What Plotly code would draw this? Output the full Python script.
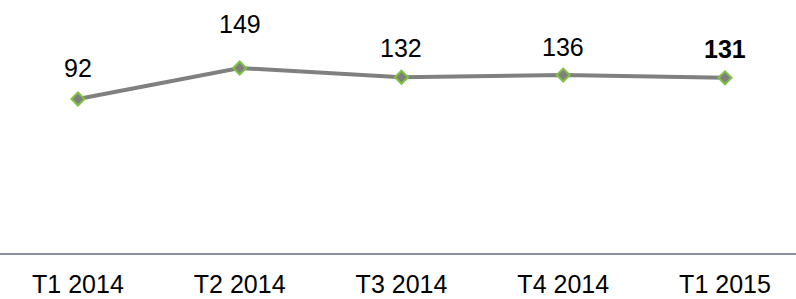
import plotly.graph_objects as go

categories = ["T1 2014", "T2 2014", "T3 2014", "T4 2014", "T1 2015"]
values = [92, 149, 132, 136, 131]
label_bold = [False, False, False, False, True]

# style: vertical offsets of labels above their points (px)
label_shift = [31, 44, 29, 28, 29]

FONT = "Liberation Sans, Arial"

fig = go.Figure()
fig.add_trace(go.Scatter(
    x=categories, y=values, mode="lines+markers",
    line=dict(color="#808080", width=4),
    marker=dict(symbol="diamond", size=10, color="#7f7f7f",
                line=dict(color="#7dc242", width=2)),
    hoverinfo="skip", showlegend=False,
))

for c, v, b, s in zip(categories, values, label_bold, label_shift):
    fig.add_annotation(
        x=c, y=v, text=f"<b>{v}</b>" if b else str(v),
        showarrow=False, yshift=s, xanchor="center", yanchor="middle",
        font=dict(family=FONT, size=25, color="#000000"),
    )

fig.update_layout(
    width=796, height=299,
    margin=dict(l=0, r=0, t=0, b=46, pad=0),
    paper_bgcolor="white", plot_bgcolor="white",
    xaxis=dict(
        type="category", range=[-0.482, 4.439],
        showgrid=False, zeroline=False,
        showline=True, linecolor="#8a919c", linewidth=2,
        ticks="outside", ticklen=8, tickcolor="rgba(0,0,0,0)",
        tickfont=dict(family=FONT, size=25, color="#000000"),
    ),
    yaxis=dict(range=[-191, 274], visible=False, showgrid=False, zeroline=False),
)

fig.write_html(
    "out.html",
    config={"displayModeBar": False, "staticPlot": True},
    post_script="document.body.style.margin='0';document.body.style.overflow='hidden';",
)
